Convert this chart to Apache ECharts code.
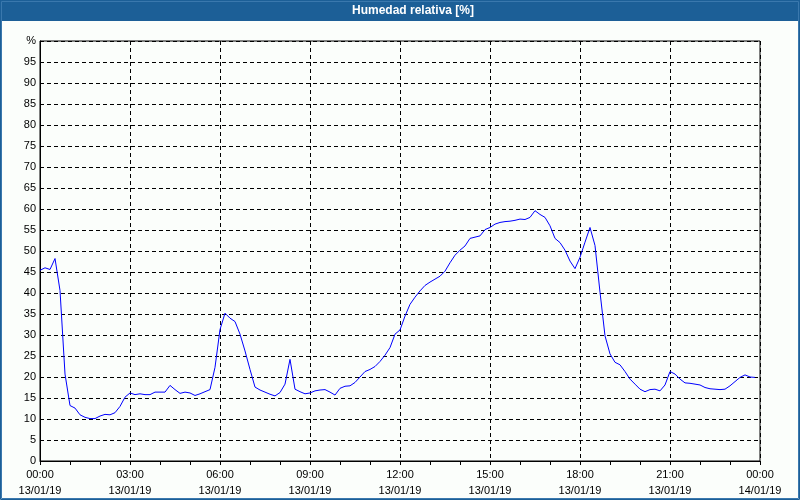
<!DOCTYPE html>
<html>
<head>
<meta charset="utf-8">
<script src="https://cdn.jsdelivr.net/npm/echarts@6/dist/echarts.min.js"></script>
<style>
html,body{margin:0;padding:0;background:#fff;}
#c{width:800px;height:500px;}
</style>
</head>
<body>
<div id="c"></div>
<script>
var titleText = 'Humedad relativa [%]';
var times = [
'00:00','00:10','00:20','00:30','00:40','00:50','01:00','01:10','01:20','01:30','01:40','01:50',
'02:00','02:10','02:20','02:30','02:40','02:50','03:00','03:10','03:20','03:30','03:40','03:50',
'04:00','04:10','04:20','04:30','04:40','04:50','05:00','05:10','05:20','05:30','05:40','05:50',
'06:00','06:10','06:20','06:30','06:40','06:50','07:00','07:10','07:20','07:30','07:40','07:50',
'08:00','08:10','08:20','08:30','08:40','08:50','09:00','09:10','09:20','09:30','09:40','09:50',
'10:00','10:10','10:20','10:30','10:40','10:50','11:00','11:10','11:20','11:30','11:40','11:50',
'12:00','12:10','12:20','12:30','12:40','12:50','13:00','13:10','13:20','13:30','13:40','13:50',
'14:00','14:10','14:20','14:30','14:40','14:50','15:00','15:10','15:20','15:30','15:40','15:50',
'16:00','16:10','16:20','16:30','16:40','16:50','17:00','17:10','17:20','17:30','17:40','17:50',
'18:00','18:10','18:20','18:30','18:40','18:50','19:00','19:10','19:20','19:30','19:40','19:50',
'20:00','20:10','20:20','20:30','20:40','20:50','21:00','21:10','21:20','21:30','21:40','21:50',
'22:00','22:10','22:20','22:30','22:40','22:50','23:00','23:10','23:20','23:30','23:40','23:50'
];
var humidity = [
45.4,46.0,45.6,48.2,40.6,20.7,13.2,12.6,11.0,10.4,10.1,10.1,
10.7,11.1,11.0,11.5,13.0,15.2,16.2,15.8,16.0,15.8,15.8,16.4,
16.4,16.4,18.0,17.0,16.1,16.4,16.2,15.6,16.0,16.5,17.0,22.3,
31.3,35.2,34.0,33.2,30.2,26.2,21.8,17.6,16.9,16.4,15.9,15.5,
16.3,18.3,24.2,17.1,16.5,16.0,16.2,16.7,16.9,17.0,16.4,15.7,
17.3,17.8,17.9,18.7,20.0,21.3,21.8,22.5,23.7,25.2,27.0,30.2,
31.2,34.5,37.3,39.0,40.5,41.8,42.6,43.3,44.0,45.2,47.2,49.0,
50.2,51.2,53.0,53.3,53.6,55.1,55.6,56.4,56.8,57.0,57.1,57.3,
57.6,57.5,58.0,59.6,58.7,58.0,56.0,53.0,52.0,50.2,47.6,45.8,
48.5,52.1,55.6,51.3,40.2,29.8,25.5,23.5,22.9,21.3,19.5,18.3,
17.1,16.5,17.0,17.1,16.7,18.1,21.3,20.7,19.5,18.6,18.5,18.3,
18.1,17.5,17.2,17.1,17.0,17.1,17.9,18.9,19.9,20.5,20.0,19.9
];
var xTickLabels = ['00:00\n13/01/19','03:00\n13/01/19','06:00\n13/01/19','09:00\n13/01/19','12:00\n13/01/19','15:00\n13/01/19','18:00\n13/01/19','21:00\n13/01/19','00:00\n14/01/19'];
var yUnitLabel = '%';

function toMin(t){ var p = t.split(':'); return (+p[0])*60 + (+p[1]); }
var seriesData = times.map(function(t,i){ return [toMin(t), humidity[i]]; });

var chart = echarts.init(document.getElementById('c'), null, {renderer:'canvas'});
var FONT = 'Liberation Sans';
chart.setOption({
  animation: false,
  backgroundColor: '#fbfefb',
  graphic: [
    {type:'rect', shape:{x:0,y:0,width:800,height:21}, style:{fill:'#1c5f97'}, z:0},
    {type:'rect', shape:{x:0.5,y:0.5,width:799,height:499}, style:{fill:'none', stroke:'#1c5f97', lineWidth:1}, z:0},
    {type:'rect', shape:{x:1.5,y:1.5,width:797,height:497}, style:{fill:'none', stroke:'#3a78ad', lineWidth:1}, z:0},
    {type:'text', x:413, y:11, style:{text:titleText, fill:'#ffffff', font:'bold 12px "Liberation Sans"', align:'center', verticalAlign:'middle'}, z:10}
  ],
  grid: {left:40, right:40, top:41, bottom:39, show:true, borderColor:'#000', borderWidth:1, backgroundColor:'#fbfefb'},
  xAxis: {
    type:'value', min:0, max:1440, interval:180,
    axisLine:{show:true, lineStyle:{color:'#000', width:1}},
    axisTick:{show:true, length:4, lineStyle:{color:'#000'}},
    minorTick:{show:true, splitNumber:3, length:4, lineStyle:{color:'#000'}},
    splitLine:{show:true, lineStyle:{color:'#000', type:[4,3], width:1}},
    axisLabel:{
      color:'#000', fontFamily:FONT, fontSize:11, lineHeight:16, margin:6,
      formatter:function(v){ return xTickLabels[Math.round(v/180)]; }
    }
  },
  yAxis: {
    type:'value', min:0, max:100, interval:5,
    axisLine:{show:true, lineStyle:{color:'#000', width:1}},
    axisTick:{show:false},
    splitLine:{show:true, lineStyle:{color:'#000', type:[4,3], width:1}},
    axisLabel:{
      color:'#000', fontFamily:FONT, fontSize:11, margin:4,
      formatter:function(v){ return v===100 ? yUnitLabel : String(v); }
    }
  },
  series: [{
    type:'line', data:seriesData, showSymbol:false, symbol:'none',
    lineStyle:{color:'#0000ff', width:1}, smooth:false
  }]
});
</script>
</body>
</html>
